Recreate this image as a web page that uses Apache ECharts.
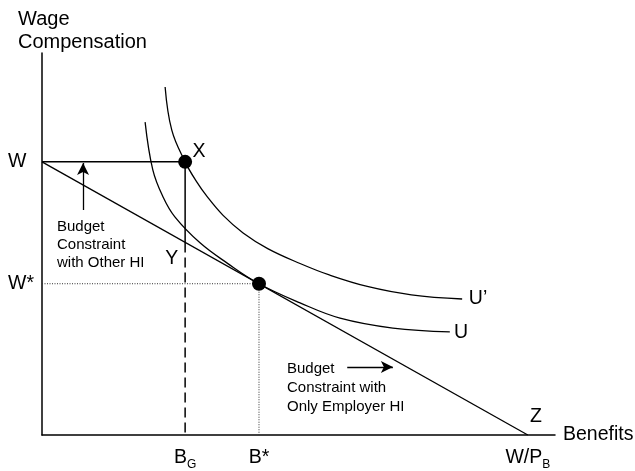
<!DOCTYPE html>
<html>
<head>
<meta charset="utf-8">
<script src="https://cdn.jsdelivr.net/npm/echarts@6/dist/echarts.min.js"></script>
<style>
  html, body { margin: 0; padding: 0; background: #fff; }
  #chart { width: 635px; height: 471px; }
</style>
</head>
<body>
<div id="chart"></div>
<script>
// key levels (axes run 0..100)
const W = 71.5;        // wage with no benefits
const Wstar = 39.6;    // optimal wage
const BG = 27.9;       // benefits from other HI
const Bstar = 42.3;    // optimal benefits
const WPB = 94.7;      // W / P_B
const Yval = 50.4;     // point Y on the budget line

const benefitTicks = [BG, Bstar, WPB];
const benefitLabels = ['{n|B}{s|G}', '{n|B*}', '{n|W/P}{s|B}'];
const wageTicks = [Wstar, W];
const wageLabels = ['W*', 'W'];

// indifference curves
const uPrime = [[24.0, 91.1], [25.3, 79.8], [27.9, 71.5], [30.0, 66.6], [32.2, 62.4], [35.3, 57.5],
  [39.2, 52.9], [44.0, 48.8], [50.3, 44.9], [56.0, 41.9], [63.4, 38.9], [72.0, 36.7], [81.9, 35.6]];
const u = [[20.1, 81.9], [21.6, 69.4], [23.6, 62.3], [25.9, 57.1], [30.8, 50.3], [36.1, 45.0],
  [42.3, 39.6], [50.3, 34.6], [58.1, 30.6], [68.4, 28.0], [79.5, 27.0]];

// budget lines
const budgetLine = [[0, W], [WPB, 0]];
const otherHI = [[0, W], [BG, W], [BG, Yval]];
const otherHIDashed = [[BG, Yval], [BG, 0]];
const optimumGuides = [[0, Wstar], [Bstar, Wstar], [Bstar, 0]];
const dots = [[BG, W], [Bstar, Wstar]];

// point labels
const pointNames = ['X', 'Y', 'U\u2019', 'U', 'Z'];
const pointSpots = [[30.6, 74.3], [25.3, 46.3], [85.0, 35.6], [81.7, 26.7], [96.3, 4.7]];

// little arrows next to the notes
const arrowUp = [[8.0, 58.9], [8.0, 71.2]];
const arrowRight = [[59.5, 17.8], [68.4, 17.8]];

const FONT = "'Liberation Sans', Arial, sans-serif";
const ink = '#000';

let chart = echarts.init(document.getElementById('chart'), null, { renderer: 'canvas' });

const option = {
  animation: false,
  backgroundColor: '#fff',
  textStyle: { fontFamily: FONT, color: ink },
  title: {
    text: 'Wage\nCompensation',
    left: 13,
    top: 3,
    textStyle: { fontFamily: FONT, fontSize: 20, fontWeight: 'normal', color: ink, lineHeight: 23 }
  },
  grid: { left: 42, right: 80, top: 53, bottom: 36, containLabel: false, outerBoundsMode: 'none' },
  xAxis: {
    type: 'value',
    min: 0,
    max: 100,
    name: 'Benefits',
    nameLocation: 'end',
    nameGap: 8,
    nameTextStyle: { fontFamily: FONT, fontSize: 19.5, color: ink },
    axisLine: { lineStyle: { color: ink, width: 1.5 } },
    axisTick: { show: false },
    splitLine: { show: false },
    axisLabel: {
      customValues: benefitTicks,
      margin: 9,
      formatter: (v) => benefitLabels[benefitTicks.indexOf(v)],
      rich: {
        n: { fontFamily: FONT, fontSize: 19.5, color: ink, lineHeight: 27 },
        s: { fontFamily: FONT, fontSize: 12, color: ink, verticalAlign: 'bottom', lineHeight: 27 }
      }
    }
  },
  yAxis: {
    type: 'value',
    min: 0,
    max: 100,
    axisLine: { show: true, lineStyle: { color: ink, width: 1.5 } },
    axisTick: { show: false },
    splitLine: { show: false },
    axisLabel: {
      customValues: wageTicks,
      align: 'left',
      margin: 34,
      fontFamily: FONT,
      fontSize: 19.5,
      color: ink,
      formatter: (v) => wageLabels[wageTicks.indexOf(v)]
    }
  },
  graphic: [
    {
      type: 'text', left: 57, top: 218,
      style: { text: 'Budget\nConstraint\nwith Other HI', font: '15px ' + FONT, fill: ink, lineHeight: 18 }
    },
    {
      type: 'text', left: 287, top: 359,
      style: { text: 'Budget\nConstraint with\nOnly Employer HI', font: '15px ' + FONT, fill: ink, lineHeight: 19 }
    }
  ],
  series: [
    {
      type: 'line', data: budgetLine, symbol: 'none',
      lineStyle: { color: ink, width: 1.3 },
      markLine: {
        silent: true,
        symbol: ['none', 'arrow'],
        symbolSize: [9, 12],
        label: { show: false },
        lineStyle: { color: ink, width: 1.3, type: 'solid' },
        data: [
          [{ coord: arrowUp[0] }, { coord: arrowUp[1] }],
          [{ coord: arrowRight[0] }, { coord: arrowRight[1] }]
        ]
      }
    },
    { type: 'line', data: otherHI, symbol: 'none', lineStyle: { color: ink, width: 1.5 } },
    { type: 'line', data: otherHIDashed, symbol: 'none', lineStyle: { color: ink, width: 1.5, type: [10, 5] } },
    { type: 'line', data: optimumGuides, symbol: 'none', lineStyle: { color: '#333', width: 1, type: [1, 1.5] } },
    { type: 'line', data: uPrime, smooth: 0.4, symbol: 'none', lineStyle: { color: ink, width: 1.3 } },
    { type: 'line', data: u, smooth: 0.4, symbol: 'none', lineStyle: { color: ink, width: 1.3 } },
    { type: 'scatter', data: dots, symbolSize: 14, itemStyle: { color: '#000', opacity: 1 }, z: 5 },
    {
      type: 'scatter',
      data: pointSpots.map((p, i) => ({ value: p, name: pointNames[i] })),
      symbolSize: 0,
      itemStyle: { color: ink },
      label: {
        show: true, position: 'inside', formatter: '{b}',
        fontFamily: FONT, fontSize: 19.5, color: ink, opacity: 1
      }
    }
  ]
};

chart.setOption(option);
</script>
</body>
</html>
